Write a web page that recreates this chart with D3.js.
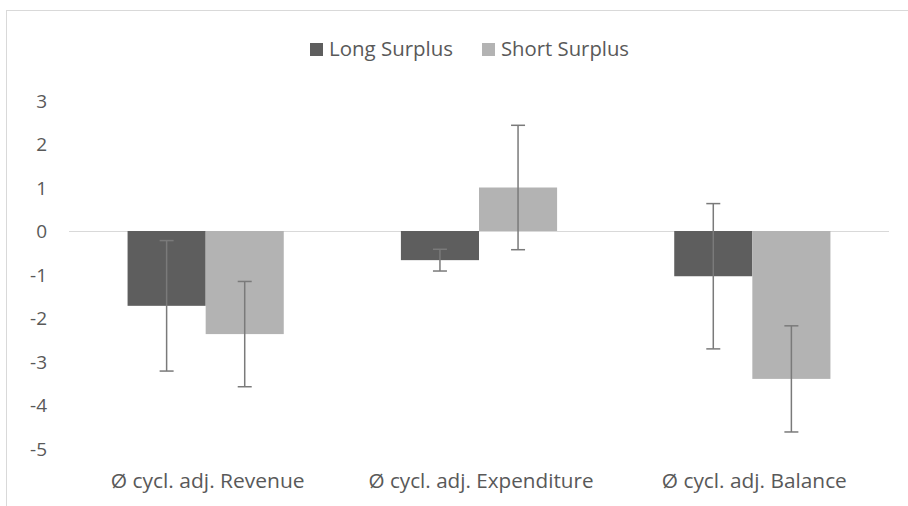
<!DOCTYPE html>
<html>
<head>
<meta charset="utf-8">
<script src="https://cdn.jsdelivr.net/npm/d3@7"></script>
<style>
  body { margin: 0; background: #fff; }
  svg text { font-family: "Open Sans", sans-serif; fill: #595959; }
</style>
</head>
<body>
<div class="container"></div>
<script>
// grouped bars with error bars

var width = 908;
var height = 506;

var categories = ["Ø cycl. adj. Revenue", "Ø cycl. adj. Expenditure", "Ø cycl. adj. Balance"];
var seriesNames = ["Long Surplus", "Short Surplus"];
var longValues = [-1.72, -0.67, -1.04];
var shortValues = [-2.37, 1.0, -3.4];
var longErr = [1.5, 0.25, 1.67];
var shortErr = [1.21, 1.43, 1.22];
var yTicks = [3, 2, 1, 0, -1, -2, -3, -4, -5];

var colors = {"Long Surplus": "#5e5e5e", "Short Surplus": "#b3b3b3"};

var rows = categories.map(function(c, i)
{
    return {
        cat: c,
        bars: [
            {name: seriesNames[0], value: longValues[i], err: longErr[i]},
            {name: seriesNames[1], value: shortValues[i], err: shortErr[i]}
        ]
    };
});

const svg = d3.select(".container")
    .append("svg")
    .attr("width", width)
    .attr("height", height);

// chart frame (cut off on the right and bottom)
svg.append("rect")
    .attr("x", 6.5)
    .attr("y", 10.5)
    .attr("width", 940)
    .attr("height", 540)
    .attr("fill", "none")
    .attr("stroke", "#d9d9d9");

var x0 = d3.scaleBand()
    .domain(categories)
    .range([69, 889]);

var x1 = d3.scaleBand()
    .domain(seriesNames)
    .range([0, x0.bandwidth()])
    .paddingOuter(0.75);

var y = d3.scaleLinear()
    .domain([-5, 3])
    .range([448.5, 100.5]);

// y labels, no axis line
var yAxis = svg.append("g")
    .attr("transform", "translate(47,0)")
    .call(d3.axisLeft(y).tickValues(yTicks).tickSize(0).tickPadding(0)
        .tickFormat(function(d) { return String(d); }));
yAxis.select(".domain").remove();
yAxis.selectAll("text")
    .attr("dy", "0.36em")
    .style("font-size", "19px")
    .style("fill", "#595959")
    .style("font-family", "'Open Sans', sans-serif");

// zero line
svg.append("line")
    .attr("x1", 69)
    .attr("x2", 889)
    .attr("y1", Math.round(y(0)) + 0.5)
    .attr("y2", Math.round(y(0)) + 0.5)
    .attr("stroke", "#d9d9d9")
    .attr("stroke-width", 1);

var group = svg.selectAll("g.cat")
    .data(rows)
    .enter()
    .append("g")
    .attr("class", "cat")
    .attr("transform", function(d) { return "translate(" + x0(d.cat) + ",0)"; });

group.selectAll("rect")
    .data(function(d) { return d.bars; })
    .enter()
    .append("rect")
    .attr("x", function(d) { return x1(d.name); })
    .attr("width", x1.bandwidth())
    .attr("y", function(d) { return y(Math.max(0, d.value)); })
    .attr("height", function(d) { return Math.abs(y(d.value) - y(0)); })
    .attr("fill", function(d) { return colors[d.name]; });

// error bars
var err = group.selectAll("g.err")
    .data(function(d) { return d.bars; })
    .enter()
    .append("g")
    .attr("class", "err")
    .attr("stroke", "#7a7a7a")
    .attr("stroke-width", 1.5);

err.append("line")
    .attr("x1", function(d) { return x1(d.name) + x1.bandwidth() / 2; })
    .attr("x2", function(d) { return x1(d.name) + x1.bandwidth() / 2; })
    .attr("y1", function(d) { return y(d.value + d.err); })
    .attr("y2", function(d) { return y(d.value - d.err); });

[1, -1].forEach(function(s)
{
    err.append("line")
        .attr("x1", function(d) { return x1(d.name) + x1.bandwidth() / 2 - 7; })
        .attr("x2", function(d) { return x1(d.name) + x1.bandwidth() / 2 + 7; })
        .attr("y1", function(d) { return y(d.value + s * d.err); })
        .attr("y2", function(d) { return y(d.value + s * d.err); });
});

// category labels (the original font is narrow, so squeeze to its width)
var catWidths = [194, 225, 185];
svg.selectAll("text.cat")
    .data(categories)
    .enter()
    .append("text")
    .attr("class", "cat")
    .attr("x", function(d) { return x0(d) + x0.bandwidth() / 2 + 2; })
    .attr("y", 488)
    .attr("text-anchor", "middle")
    .attr("textLength", function(d, i) { return catWidths[i]; })
    .attr("lengthAdjust", "spacingAndGlyphs")
    .style("font-size", "20px")
    .text(function(d) { return d; });

// legend
var legend = svg.append("g");
var legendX = [310, 482];
var legendWidths = [124, 128];
seriesNames.forEach(function(name, i)
{
    legend.append("rect")
        .attr("x", legendX[i])
        .attr("y", 43)
        .attr("width", 13)
        .attr("height", 13)
        .attr("fill", colors[name]);
    legend.append("text")
        .attr("x", legendX[i] + 19)
        .attr("y", 56)
        .attr("textLength", legendWidths[i])
        .attr("lengthAdjust", "spacingAndGlyphs")
        .style("font-size", "19.5px")
        .text(name);
});
</script>
</body>
</html>
